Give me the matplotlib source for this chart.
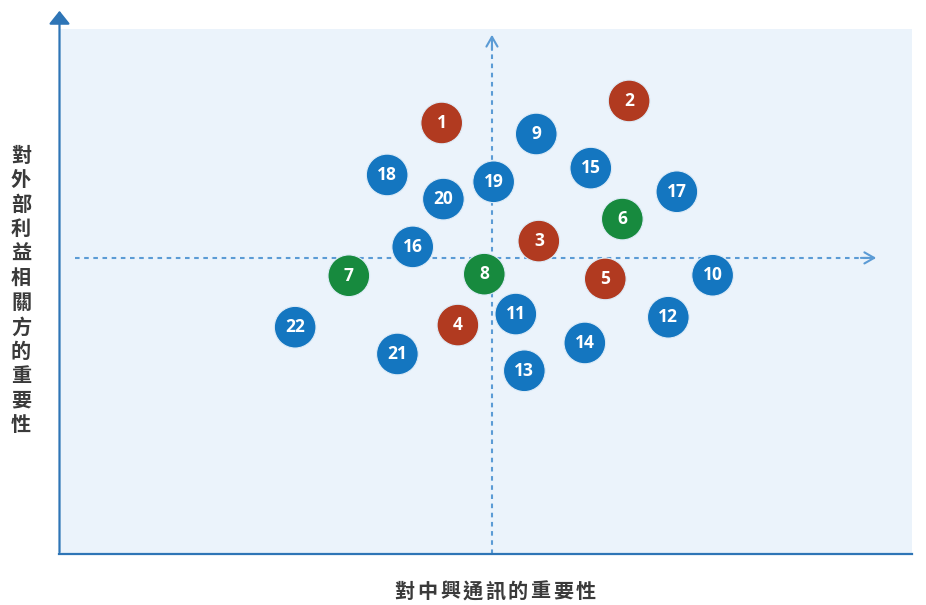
import matplotlib
matplotlib.use("Agg")
import matplotlib.pyplot as plt
from matplotlib.patches import FancyArrowPatch

plt.rcParams['font.family'] = ['Noto Sans CJK TC', 'DejaVu Sans']

# data (0-100 scale on each importance axis)
labels = ['1', '2', '3', '4', '5', '6', '7', '8', '9', '10', '11',
          '12', '13', '14', '15', '16', '17', '18', '19', '20', '21', '22']
x_vals = [44.8, 66.8, 56.2, 46.7, 64.0, 66.0, 33.9, 49.8, 55.9, 76.6, 53.5,
          71.4, 54.5, 61.6, 62.3, 41.4, 72.4, 38.4, 50.9, 45.0, 39.6, 27.6]
y_vals = [82.1, 86.3, 59.6, 43.6, 52.4, 63.8, 53.0, 53.3, 80.0, 53.1, 45.7,
          45.1, 34.9, 40.2, 73.5, 58.5, 69.0, 72.2, 70.9, 67.6, 38.1, 43.2]
groups = ['r', 'r', 'r', 'r', 'r', 'g', 'g', 'g', 'b', 'b', 'b',
          'b', 'b', 'b', 'b', 'b', 'b', 'b', 'b', 'b', 'b', 'b']
x_center = 50.7
y_center = 56.4
x_title = '對中興通訊的重要性'
y_title = '對外部利益相關方的重要性'

colors = {'r': '#B13A20', 'g': '#178A3E', 'b': '#1476C0'}
axis_blue = '#2E75B6'
dash_blue = '#5B9BD5'
title_color = '#3A3A3A'

W, H = 926, 605
fig = plt.figure(figsize=(W / 100, H / 100), dpi=100)
ax = fig.add_axes([60 / W, (H - 554) / H, 852 / W, 525 / H])
ax.set_xlim(0, 100)
ax.set_ylim(0, 100)
ax.set_facecolor('#EBF3FB')
for s in ax.spines.values():
    s.set_visible(False)
ax.set_xticks([])
ax.set_yticks([])

# crosshair dashed lines with solid chevrons
ax.plot([x_center, x_center], [0, 98.7], color=dash_blue, lw=1.5,
        linestyle=(0, (2.2, 2.2)), zorder=1)
ax.plot([1.8, 95.6], [y_center, y_center], color=dash_blue, lw=1.5,
        linestyle=(0, (2.2, 2.2)), zorder=1)
ax.annotate('', xy=(x_center, 98.9), xytext=(x_center, 96.0),
            arrowprops=dict(arrowstyle='->,head_length=0.7,head_width=0.4', color=dash_blue,
                            lw=1.5, shrinkA=0, shrinkB=0), zorder=1)
ax.annotate('', xy=(95.8, y_center), xytext=(94.0, y_center),
            arrowprops=dict(arrowstyle='->,head_length=0.7,head_width=0.4', color=dash_blue,
                            lw=1.5, shrinkA=0, shrinkB=0), zorder=1)

# bubbles
ax.scatter(x_vals, y_vals, s=900, c=[colors[g] for g in groups],
           edgecolors='#DDEBF7', linewidths=0.8, zorder=3)
for xv, yv, lab in zip(x_vals, y_vals, labels):
    ax.text(xv, yv, lab, ha='center', va='center', color='white',
            fontsize=12.5, fontweight='bold', zorder=4, family=['Open Sans', 'DejaVu Sans'])

# main axes (left with arrow, bottom line)
fig.add_artist(FancyArrowPatch((59.5 / W, (H - 555) / H), (59.5 / W, (H - 8) / H),
                               transform=fig.transFigure, arrowstyle='-|>,head_length=5,head_width=4',
                               color=axis_blue, lw=1.6, mutation_scale=1.6))
fig.add_artist(plt.Line2D([59 / W, 912 / W], [(H - 554) / H, (H - 554) / H],
                          transform=fig.transFigure, color=axis_blue, lw=1.6))

# titles (characters placed individually to reproduce letter spacing)
xp = 22.6
x0 = 495 - xp * (len(x_title) - 1) / 2
for i, ch in enumerate(x_title):
    fig.text((x0 + i * xp) / W, (H - 591) / H, ch, ha='center', va='center',
             fontsize=14.5, fontweight='heavy', color=title_color)
yp = 24.5
y0 = 290 - yp * (len(y_title) - 1) / 2
for i, ch in enumerate(y_title):
    fig.text(21 / W, (H - (y0 + i * yp)) / H, ch, ha='center', va='center',
             fontsize=14.5, fontweight='heavy', color=title_color)

fig.savefig('out.png', dpi=100)
